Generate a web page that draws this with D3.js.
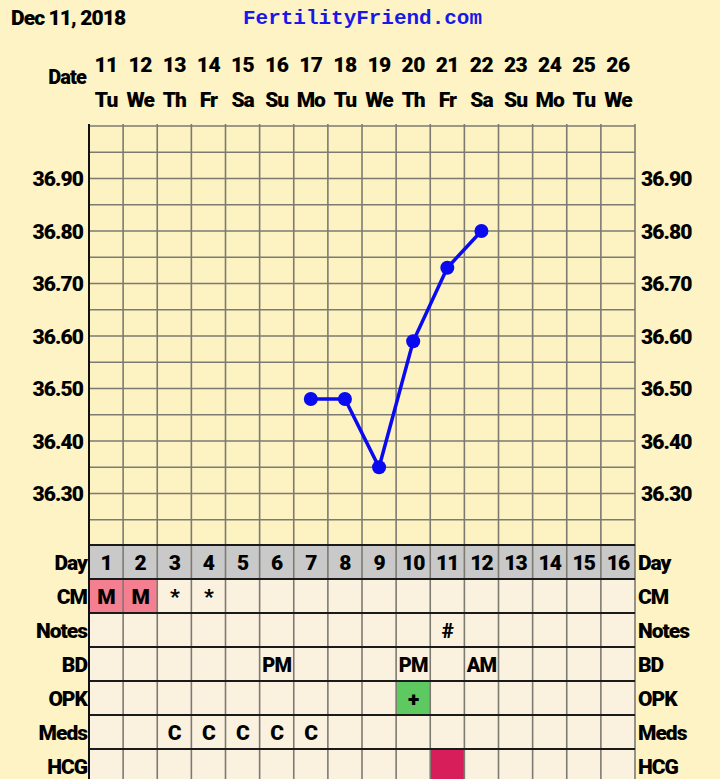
<!DOCTYPE html>
<html>
<head>
<meta charset="utf-8">
<script src="https://cdn.jsdelivr.net/npm/d3@7"></script>
<style>
  body { margin: 0; background: #fdf3c4; }
  svg text { font-family: Roboto, "Liberation Sans", sans-serif; font-weight: 900; fill: #000; }
</style>
</head>
<body>
<div id="chart"></div>
<script>
// chart data
const chartDate = 'Dec 11, 2018';
const siteName = 'FertilityFriend.com';
const cycleDays = d3.range(1, 17);
const dates = ['11','12','13','14','15','16','17','18','19','20','21','22','23','24','25','26'];
const weekdays = ['Tu','We','Th','Fr','Sa','Su','Mo','Tu','We','Th','Fr','Sa','Su','Mo','Tu','We'];
const tempDays = [7, 8, 9, 10, 11, 12];
const temps = [36.48, 36.48, 36.35, 36.59, 36.73, 36.80];
const tempTicks = [36.30, 36.40, 36.50, 36.60, 36.70, 36.80, 36.90];
const rowNames = ['Day', 'CM', 'Notes', 'BD', 'OPK', 'Meds', 'HCG'];
const cmMarks = { 1: 'M', 2: 'M', 3: '*', 4: '*' };
const noteMarks = { 11: '#' };
const bdMarks = { 6: 'PM', 10: 'PM', 12: 'AM' };
const opkMarks = { 10: '+' };
const medMarks = { 3: 'C', 4: 'C', 5: 'C', 6: 'C', 7: 'C' };
const hcgMarks = { 11: '' };

const W = 720, H = 779;
const plotLeft = 89, plotRight = 635;
const plotTop = 126, plotBottom = 546;
const rowH = 34;
const fs = '21px';

const svg = d3.select('#chart').append('svg')
    .attr('width', W).attr('height', H);

svg.append('rect').attr('width', W).attr('height', H).attr('fill', '#fdf3c4');

const x = d3.scaleBand().domain(cycleDays).range([plotLeft, plotRight]);
const y = d3.scaleLinear().domain([36.2, 37.0]).range([plotBottom, plotTop]);

// header
svg.append('text').attr('x', 11).attr('y', 25)
    .style('font-size', fs).style('letter-spacing', '-0.9px')
    .text(chartDate);
svg.append('text').attr('x', 243).attr('y', 24)
    .style('font-family', '"Liberation Mono", "DejaVu Sans Mono", monospace')
    .style('font-weight', 'bold')
    .style('font-size', '20px').style('fill', '#1818e8')
    .attr('textLength', 239).attr('lengthAdjust', 'spacingAndGlyphs')
    .text(siteName);

svg.append('text').attr('x', 86).attr('y', 84).attr('text-anchor', 'end')
    .style('font-size', '20px').style('letter-spacing', '-0.9px').text('Date');

svg.selectAll('.dnum').data(cycleDays).join('text')
    .attr('class', 'dnum')
    .attr('x', d => x(d) + x.bandwidth() / 2).attr('y', 72)
    .attr('text-anchor', 'middle')
    .style('font-size', fs).style('letter-spacing', '-0.6px')
    .text((d, i) => dates[i]);

svg.selectAll('.wday').data(cycleDays).join('text')
    .attr('class', 'wday')
    .attr('x', d => x(d) + x.bandwidth() / 2).attr('y', 107)
    .attr('text-anchor', 'middle')
    .style('font-size', fs).style('letter-spacing', '-1px')
    .text((d, i) => weekdays[i]);

// temperature grid
const g = svg.append('g');
g.append('rect').attr('x', plotLeft).attr('y', plotTop)
    .attr('width', plotRight - plotLeft).attr('height', plotBottom - plotTop)
    .attr('fill', '#fcf2c2');

g.selectAll('.hgrid').data(d3.range(0, 17).map(i => 36.2 + i * 0.05)).join('line')
    .attr('x1', plotLeft).attr('x2', plotRight)
    .attr('y1', d => y(d)).attr('y2', d => y(d))
    .attr('stroke', '#7d7a72').attr('stroke-width', 1.6);

g.selectAll('.vgrid').data(cycleDays.slice(1).concat([null])).join('line')
    .attr('x1', d => d === null ? plotRight : x(d)).attr('x2', d => d === null ? plotRight : x(d))
    .attr('y1', plotTop - 2).attr('y2', plotBottom)
    .attr('stroke', '#7d7a72').attr('stroke-width', 1.6);

g.append('line').attr('x1', plotLeft).attr('x2', plotLeft)
    .attr('y1', plotTop - 2).attr('y2', plotBottom)
    .attr('stroke', '#111').attr('stroke-width', 2);

// axis labels, both sides
[{ xp: 83, anchor: 'end' }, { xp: 641, anchor: 'start' }].forEach(side => {
  svg.selectAll(null).data(tempTicks).join('text')
      .attr('x', side.xp).attr('y', d => y(d) + 7.5)
      .attr('text-anchor', side.anchor)
      .style('font-size', fs).style('letter-spacing', '-0.9px')
      .text(d => d.toFixed(2));
});

// temperature line
const line = d3.line()
    .x((d, i) => x(tempDays[i]) + x.bandwidth() / 2)
    .y(d => y(d));

g.append('path').datum(temps)
    .attr('d', line)
    .attr('fill', 'none').attr('stroke', '#0a0af0').attr('stroke-width', 3.5);

g.selectAll('.pt').data(temps).join('circle')
    .attr('cx', (d, i) => x(tempDays[i]) + x.bandwidth() / 2)
    .attr('cy', d => y(d))
    .attr('r', 7).attr('fill', '#0a0af0');

// table rows
const tableTop = plotBottom - 1;
const rowY = i => tableTop + i * rowH;
const rowData = [null, cmMarks, noteMarks, bdMarks, opkMarks, medMarks, hcgMarks];
const cellFill = (row, d) => {
  if (row === 0) return '#c9c9c9';
  if (row === 1 && rowData[1][d] === 'M') return '#f37f90';
  if (row === 4 && rowData[4][d] !== undefined) return '#5fc961';
  if (row === 6 && rowData[6][d] !== undefined) return '#d81d5b';
  return '#fbf1df';
};

rowNames.forEach((name, r) => {
  const ry = rowY(r);
  svg.selectAll(null).data(cycleDays).join('rect')
      .attr('x', d => x(d)).attr('y', ry)
      .attr('width', x.bandwidth()).attr('height', rowH)
      .attr('fill', d => cellFill(r, d));

  svg.selectAll(null).data(cycleDays).join('text')
      .attr('x', d => x(d) + x.bandwidth() / 2).attr('y', ry + 25)
      .attr('text-anchor', 'middle')
      .style('font-size', d => r === 3 ? '20px' : fs)
      .style('letter-spacing', '-0.9px')
      .text(d => r === 0 ? d : (rowData[r][d] || ''));

  svg.append('text').attr('x', 87).attr('y', ry + 25).attr('text-anchor', 'end')
      .style('font-size', fs).style('letter-spacing', '-1px').text(name);
  svg.append('text').attr('x', 638).attr('y', ry + 25)
      .style('font-size', fs).style('letter-spacing', '-1px').text(name);
});

// table grid lines
svg.selectAll('.tv').data(cycleDays.slice(1).concat([null])).join('line')
    .attr('x1', d => d === null ? plotRight : x(d)).attr('x2', d => d === null ? plotRight : x(d))
    .attr('y1', tableTop).attr('y2', H)
    .attr('stroke', '#7d7a72').attr('stroke-width', 1.6);

svg.selectAll('.th').data(d3.range(0, rowNames.length)).join('line')
    .attr('x1', plotLeft).attr('x2', plotRight)
    .attr('y1', d => rowY(d)).attr('y2', d => rowY(d))
    .attr('stroke', '#1a1a1a').attr('stroke-width', 2);

svg.append('line').attr('x1', plotLeft).attr('x2', plotLeft)
    .attr('y1', tableTop).attr('y2', H)
    .attr('stroke', '#111').attr('stroke-width', 2);
</script>
</body>
</html>
